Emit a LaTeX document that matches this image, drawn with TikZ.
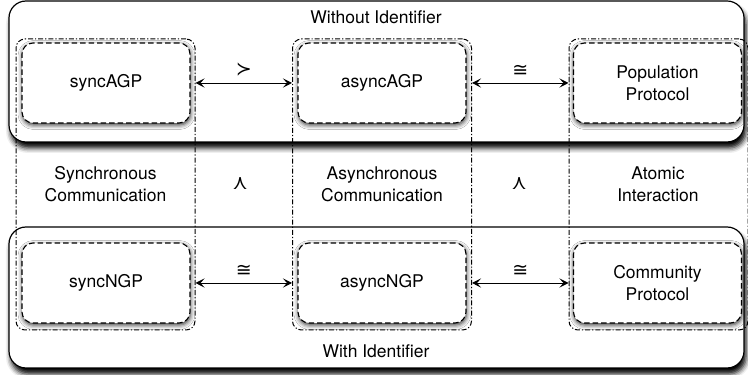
\documentclass[tikz,border=0pt]{standalone}
\usepackage{fontspec}
\setmainfont{TeX Gyre Heros}
\newfontfamily\relfont{DejaVu Sans}
\usetikzlibrary{shadows.blur, arrows.meta, calc}

\tikzset{
	model/.style={draw, dash pattern=on 5.5pt off 3pt, line width=1.1pt, rounded corners=11pt, fill=white,
		minimum width=168pt, minimum height=80pt, align=center,
		blur shadow={shadow xshift=0.5pt, shadow yshift=-2pt, shadow blur radius=4.5pt, shadow opacity=85}},
	column/.style={draw, dash pattern=on 5pt off 2pt on 1.2pt off 2pt, line width=1pt, rounded corners=9pt,
		minimum width=179pt, minimum height=291pt},
	row/.style={draw, line width=1.2pt, rounded corners=17pt, fill=white,
		minimum width=735pt, minimum height=141pt,
		blur shadow={shadow xshift=2pt, shadow yshift=-6pt, shadow blur radius=5pt, shadow opacity=100}},
	rel/.style={{Stealth[length=9pt, width=9pt, inset=4pt]}-{Stealth[length=9pt, width=9pt, inset=4pt]}, line width=0.9pt},
	order/.style={font=\relfont\fontsize{19}{21}\selectfont, inner sep=1pt},
	caption/.style={align=center}
}

\begin{document}
\begin{tikzpicture}[x=1pt, y=1pt, font=\fontsize{17.5}{22}\selectfont]
			\clip (0,0) rectangle (748,375);
			\useasboundingbox (0,0) rectangle (748,375);
			
			\node[row] (noid) at (376.5, 303.5) {};
			\node[row] (withid) at (376.5, 77.5) {};
			
			\node at (376, 358) {Without Identifier};
			\node at (376, 24) {With Identifier};
			
			\node[column] (sync) at (105.5, 190.5) {};
			\node[column] (async) at (382, 190.5) {};
			\node[column] (atomic) at (658.5, 190.5) {};
			
			\node[model] (syncagp) at (106, 292) {syncAGP};
			\node[model] (asyncagp) at (382, 292) {asyncAGP};
			\node[model] (pp) at (657.5, 292) {Population\\Protocol};
			\node[model] (syncngp) at (106, 92) {syncNGP};
			\node[model] (asyncngp) at (382, 92) {asyncNGP};
			\node[model] (cp) at (657.5, 92) {Community\\Protocol};
			
			\draw[rel] (sync.east |- syncagp) -- node[order, above=5pt]{≻} (async.west |- asyncagp);
			\draw[rel] (async.east |- asyncagp) -- node[order, above=5pt]{≅} (atomic.west |- pp);
			\draw[rel] (sync.east |- syncngp) -- node[order, above=5pt]{≅} (async.west |- asyncngp);
			\draw[rel] (async.east |- asyncngp) -- node[order, above=5pt]{≅} (atomic.west |- cp);
			
			\node[caption] (synccom) at (105.5, 191) {Synchronous\\Communication};
			\node[caption] (asynccom) at (382, 191) {Asynchronous\\Communication};
			\node[caption] (atomicint) at (658, 191) {Atomic\\Interaction};
			
			\node[order, rotate=90] (geq1) at (241, 191) {≻};
			\node[order, rotate=90] (geq2) at (520, 191) {≻};
\end{tikzpicture}
\end{document}
